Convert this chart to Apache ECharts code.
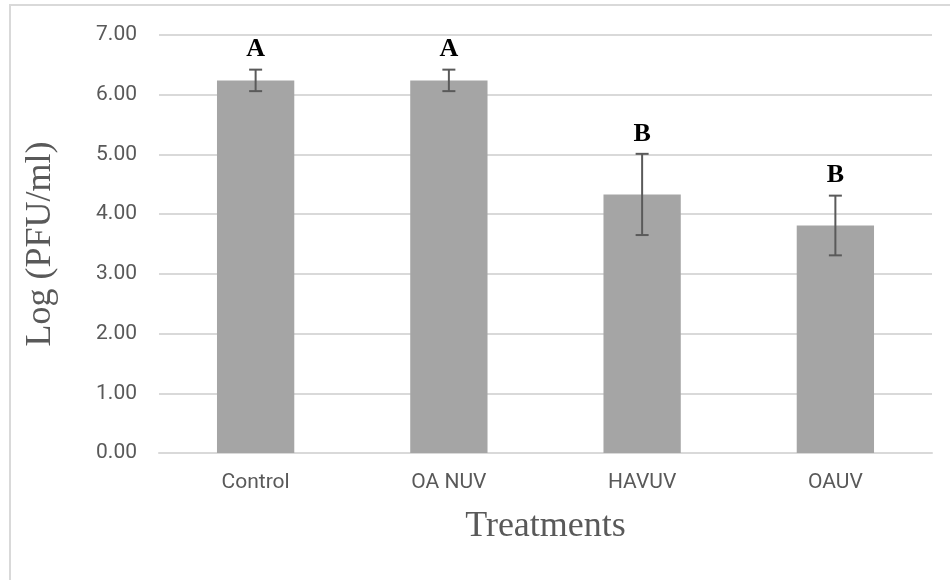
<!DOCTYPE html>
<html>
<head>
<meta charset="utf-8">
<script src="https://cdn.jsdelivr.net/npm/echarts@6/dist/echarts.min.js"></script>
<style>
  html, body { margin: 0; padding: 0; background: #ffffff; }
  #chart { width: 950px; height: 580px; }
</style>
</head>
<body>
<div id="chart"></div>
<script>
// Treatment groups and their mean log titres
const categories = ['Control', 'OA NUV', 'HAVUV', 'OAUV'];
const means = [6.24, 6.24, 4.33, 3.81];
// Half-length of each error bar (± around the mean)
const errors = [0.18, 0.18, 0.68, 0.50];
// Significance group letters shown above each bar
const letters = ['A', 'A', 'B', 'B'];

const chart = echarts.init(document.getElementById('chart'));

const errorData = categories.map((c, i) => [i, means[i], errors[i]]);

function renderErrorBar(params, api) {
  const idx = api.value(0);
  const mean = api.value(1);
  const err = api.value(2);
  const top = api.coord([idx, mean + err]);
  const bottom = api.coord([idx, mean - err]);
  const half = 6.5;
  const lineStyle = { stroke: '#5a5a5a', lineWidth: 2 };
  return {
    type: 'group',
    children: [
      { type: 'line', shape: { x1: top[0], y1: top[1], x2: bottom[0], y2: bottom[1] }, style: lineStyle },
      { type: 'line', shape: { x1: top[0] - half, y1: top[1], x2: top[0] + half, y2: top[1] }, style: lineStyle },
      { type: 'line', shape: { x1: bottom[0] - half, y1: bottom[1], x2: bottom[0] + half, y2: bottom[1] }, style: lineStyle },
      {
        type: 'text',
        style: {
          text: letters[params.dataIndex],
          x: top[0],
          y: top[1] - 20,
          align: 'center',
          verticalAlign: 'middle',
          fill: '#000000',
          font: 'bold 26px "Liberation Serif", "Times New Roman", serif'
        }
      }
    ]
  };
}

chart.setOption({
  animation: false,
  backgroundColor: '#ffffff',
  graphic: [
    {
      type: 'rect',
      shape: { x: 10, y: 5, width: 1000, height: 1000 },
      style: { fill: 'none', stroke: '#d9d9d9', lineWidth: 2 },
      silent: true
    }
  ],
  grid: { left: 159, right: 18, top: 35, bottom: 127, containLabel: false },
  xAxis: {
    type: 'category',
    data: categories,
    name: 'Treatments',
    nameLocation: 'middle',
    nameGap: 56,
    nameTextStyle: { fontFamily: '"Liberation Serif", serif', fontSize: 36, color: '#595959' },
    axisLine: { lineStyle: { color: '#d9d9d9', width: 2 } },
    axisTick: { show: false },
    axisLabel: { margin: 19, fontFamily: 'Roboto, sans-serif', fontSize: 21, color: '#595959' }
  },
  yAxis: {
    type: 'value',
    min: 0,
    max: 7,
    interval: 1,
    name: 'Log (PFU/ml)',
    nameLocation: 'middle',
    nameGap: 100,
    nameTextStyle: { fontFamily: '"Liberation Serif", serif', fontSize: 36, color: '#595959' },
    axisLine: { show: false },
    axisTick: { show: false },
    axisLabel: {
      margin: 22,
      fontFamily: 'Roboto, sans-serif',
      fontSize: 21,
      color: '#595959',
      formatter: v => v.toFixed(2)
    },
    splitLine: { lineStyle: { color: '#d9d9d9', width: 2 } }
  },
  series: [
    {
      type: 'bar',
      data: means,
      barWidth: '40%',
      itemStyle: { color: '#a5a5a5' },
      z: 2
    },
    {
      type: 'custom',
      data: errorData,
      encode: { x: 0, y: 1 },
      renderItem: renderErrorBar,
      z: 3
    }
  ]
});
</script>
</body>
</html>
